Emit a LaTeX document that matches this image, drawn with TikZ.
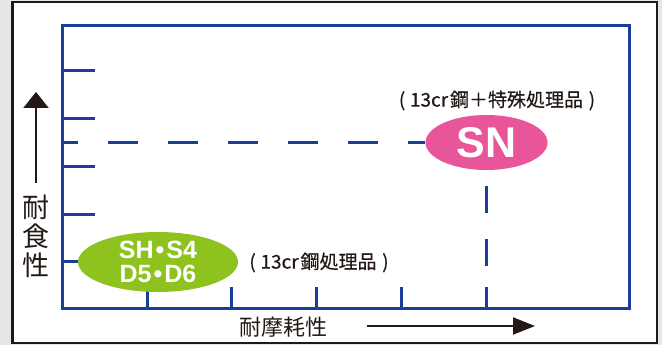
\documentclass[tikz,border=0pt]{standalone}
\usepackage{fontspec}
\setmainfont{Liberation Sans}
\newfontfamily\cjk{Noto Sans CJK JP}
\newfontfamily\cjknote[FakeBold=0.4]{Noto Sans CJK JP}
\usetikzlibrary{arrows.meta,shapes.geometric}
\definecolor{axisblue}{RGB}{26,62,150}
\definecolor{snpink}{RGB}{232,85,152}
\definecolor{shgreen}{RGB}{141,194,31}
\definecolor{inkblack}{RGB}{35,24,21}
\definecolor{bggray}{RGB}{230,230,230}
\newcommand{\middot}{\hspace{0.08em}•\hspace{0.08em}}
\tikzset{
  axisline/.style={draw=axisblue, line width=3pt},
  guideline/.style={draw=axisblue, line width=2.6pt},
  axisarrow/.style={draw=inkblack, line width=2pt},
  cjklabel/.style={text=inkblack, inner sep=0pt, font=\cjk\fontsize{#1}{#1}\selectfont},
  notelabel/.style={text=inkblack, inner sep=0pt, font=\cjknote\fontsize{19}{19}\selectfont},
  blob/.style={ellipse, inner sep=0pt, text=white, align=center},
}
\begin{document}
\begin{tikzpicture}[x=1pt,y=-1pt]
\fill[bggray] (0,0) rectangle (662,345);
\useasboundingbox (0,0) rectangle (662,345);
\draw[inkblack, line width=2.4pt, fill=white] (12.3,2) rectangle (657,343);
% plot frame
\draw[axisline] (62,26) rectangle (629,308);
\foreach \y in {71,119,166,214,261} \draw[axisline] (62,\y) -- (95,\y);
\foreach \x in {147,231,316,401,486.5} \draw[axisline] (\x,308) -- (\x,287);
% ellipses
\node[blob, fill=snpink, minimum width=122pt, minimum height=55pt,
      font=\bfseries\fontsize{43}{43}\selectfont] (sn) at (486.5,142.5) {SN};
\node[blob, fill=shgreen, minimum width=160pt, minimum height=60pt,
      font=\bfseries\fontsize{25}{24}\selectfont] (sh) at (158,262) {SH\middot S4\\D5\middot D6};
% guide lines
\coordinate (hstart) at (62,142.5);
\coordinate (vend) at (486.5,287);
\draw[guideline, dash pattern=on 30pt off 30pt, dash phase=14pt] (hstart) -- (sn.west);
\draw[guideline, dash pattern=on 26.5pt off 26.5pt, dash phase=37pt] (sn.south) -- (vend);
% notes
\node[notelabel] (n1) at (497,100.5) {(\hspace{0.25em}13cr\hspace{0.1em}鋼＋特殊処理品\hspace{0.3em})};
\node[notelabel] (n2) at (319,262.5) {(\hspace{0.25em}13cr\hspace{0.1em}鋼処理品\hspace{0.3em})};
% axis labels and arrows
\node[cjklabel=27, align=center, font=\cjk\fontsize{27}{29}\selectfont] (ylab) at (36,236) {耐\\食\\性};
\node[cjklabel=22] (xlab) at (283,327) {耐摩耗性};
\coordinate (ytail) at (36,183);
\coordinate (ytip) at (36,92);
\coordinate (xtail) at (367,326);
\coordinate (xtip) at (535,326);
\draw[axisarrow, -{Triangle[width=25pt,length=16pt]}] (ytail) -- (ytip);
\draw[axisarrow, -{Triangle[width=17pt,length=22pt]}] (xtail) -- (xtip);
\end{tikzpicture}
\end{document}
